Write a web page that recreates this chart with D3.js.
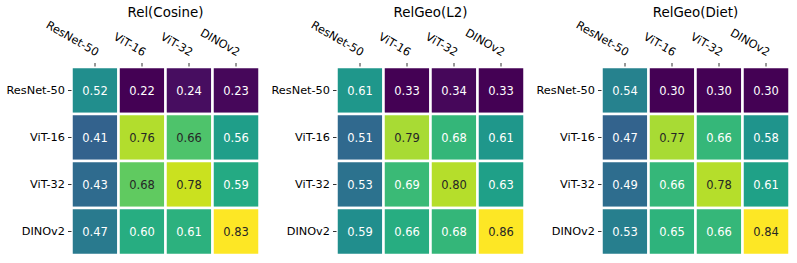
<!DOCTYPE html>
<html>
<head>
<meta charset="utf-8">
<script src="https://cdn.jsdelivr.net/npm/d3@7"></script>
<style>
  body { margin: 0; background: #fff; }
  svg { display: block; font-family: "DejaVu Sans", sans-serif; }
</style>
</head>
<body>
<svg id="chart"></svg>
<script>
// Data
const models = ['ResNet-50', 'ViT-16', 'ViT-32', 'DINOv2'];
const titles = ['Rel(Cosine)', 'RelGeo(L2)', 'RelGeo(Diet)'];
const relCosine = [
  [0.52, 0.22, 0.24, 0.23],
  [0.41, 0.76, 0.66, 0.56],
  [0.43, 0.68, 0.78, 0.59],
  [0.47, 0.60, 0.61, 0.83]
];
const relGeoL2 = [
  [0.61, 0.33, 0.34, 0.33],
  [0.51, 0.79, 0.68, 0.61],
  [0.53, 0.69, 0.80, 0.63],
  [0.59, 0.66, 0.68, 0.86]
];
const relGeoDiet = [
  [0.54, 0.30, 0.30, 0.30],
  [0.47, 0.77, 0.66, 0.58],
  [0.49, 0.66, 0.78, 0.61],
  [0.53, 0.65, 0.66, 0.84]
];
const matrices = [relCosine, relGeoL2, relGeoDiet];

const width = 797;
const height = 263;
const size = 188;
const marginTop = 67;
const lefts = [71.5, 336.5, 601.5];
const tickFont = 11.3;

const svg = d3.select('#chart')
  .attr('width', width)
  .attr('height', height)
  .attr('viewBox', [0, 0, width, height]);

// seaborn picks dark or white text from the cell's luminance
function luminance(c) {
  const rgb = d3.rgb(c);
  const ch = [rgb.r, rgb.g, rgb.b].map((v) => {
    v /= 255;
    return v <= 0.03928 ? v / 12.92 : Math.pow((v + 0.055) / 1.055, 2.4);
  });
  return 0.2126 * ch[0] + 0.7152 * ch[1] + 0.0722 * ch[2];
}

matrices.forEach((m, i) => {
  const left = lefts[i];
  const flat = m.flat();
  const color = d3.scaleSequential(d3.interpolateViridis)
    .domain([d3.min(flat), d3.max(flat)]);

  const x = d3.scaleBand().domain(models).range([left, left + size]);
  const y = d3.scaleBand().domain(models).range([marginTop, marginTop + size]);

  const g = svg.append('g');

  // Cells
  const cells = m.flatMap((row, r) => row.map((v, c) => ({ r: models[r], c: models[c], v })));
  g.selectAll('rect')
    .data(cells)
    .join('rect')
    .attr('x', (d) => x(d.c))
    .attr('y', (d) => y(d.r))
    .attr('width', x.bandwidth())
    .attr('height', y.bandwidth())
    .attr('fill', (d) => color(d.v))
    .attr('stroke', '#fff')
    .attr('stroke-width', 2.5);

  g.selectAll('text.annot')
    .data(cells)
    .join('text')
    .attr('class', 'annot')
    .attr('x', (d) => x(d.c) + x.bandwidth() / 2)
    .attr('y', (d) => y(d.r) + y.bandwidth() / 2)
    .attr('text-anchor', 'middle')
    .attr('dominant-baseline', 'central')
    .attr('font-size', 11.5)
    .attr('fill', (d) => (luminance(color(d.v)) > 0.408 ? '#262626' : '#fff'))
    .text((d) => d.v.toFixed(2));

  // Y axis: ticks on the left, no domain line
  g.append('g')
    .attr('transform', `translate(${left},0)`)
    .call(d3.axisLeft(y).tickSize(3.5).tickPadding(3))
    .call((a) => a.select('.domain').remove())
    .call((a) => a.selectAll('line').attr('stroke', '#333'))
    .call((a) => a.selectAll('text').attr('font-size', tickFont).attr('fill', '#000')
      .attr('font-family', '"DejaVu Sans", sans-serif'));

  // X axis on top with rotated labels
  g.append('g')
    .attr('transform', `translate(0,${marginTop - 0.5})`)
    .call(d3.axisTop(x).tickSize(3.5))
    .call((a) => a.select('.domain').remove())
    .call((a) => a.selectAll('line').attr('stroke', '#333'))
    .call((a) => a.selectAll('text')
      .attr('font-size', tickFont)
      .attr('fill', '#000')
      .attr('font-family', '"DejaVu Sans", sans-serif')
      .attr('text-anchor', 'end')
      .attr('y', 0)
      .attr('dy', 0)
      .attr('transform', 'translate(1,-10) rotate(30)'));

  // Title
  svg.append('text')
    .attr('x', left + size / 2)
    .attr('y', 16.7)
    .attr('text-anchor', 'middle')
    .attr('font-size', 13.4)
    .attr('fill', '#000')
    .text(titles[i]);
});
</script>
</body>
</html>
